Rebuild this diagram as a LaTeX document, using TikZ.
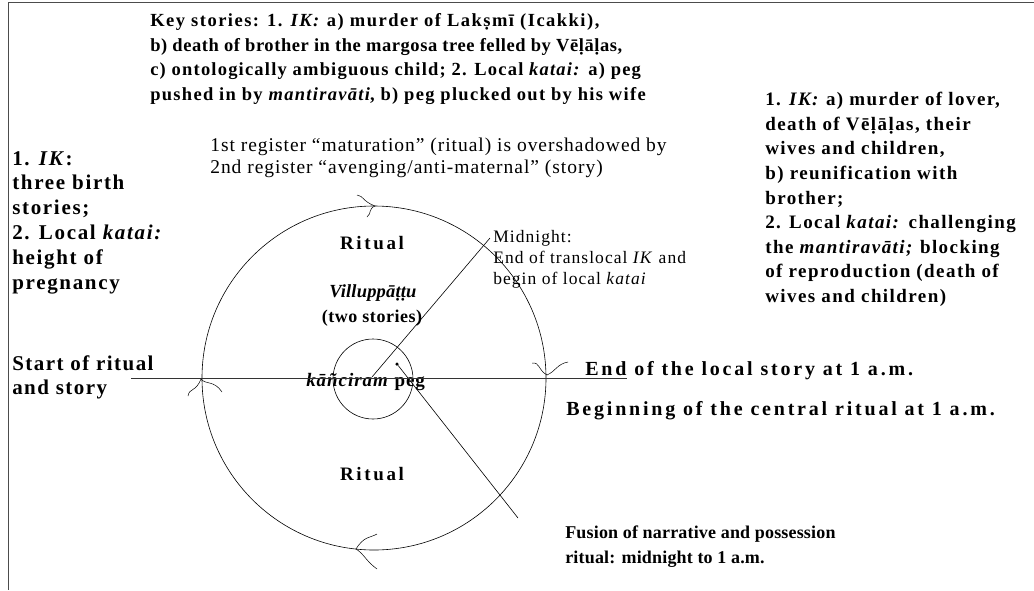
\documentclass[tikz,border=0pt]{standalone}
\usepackage{fontspec}
\setmainfont{Liberation Serif}
\newcommand{\ls}[1]{\addfontfeatures{LetterSpace=#1}}
\begin{document}
\begin{tikzpicture}[x=1pt,y=-1pt,line width=0.6pt,
  blk/.style={inner sep=0pt,anchor=north west,align=left},
  lbl/.style={inner sep=0pt},
  frame/.style={draw=black!70,line width=0.8pt},
  squig/.style={line width=0.5pt}]
\useasboundingbox (0,0) rectangle (1034,590);
\draw[frame] (8,2) -- (1034,2);
\draw[frame] (8,2) -- (8,590);
% texts
\node[blk,font={\bfseries\fontsize{18.5}{24.8}\selectfont}] (key) at (150,13) {{\ls{8}Key stories: 1. \textit{IK:} a) murder of Lakṣmī (Icakki),}\\
{\ls{3}b) death of brother in the margosa tree felled by Vēḷāḷas,}\\
{\ls{6.5}c) ontologically ambiguous child; 2. Local \textit{katai:} a) peg}\\
{\ls{7}pushed in by \textit{mantiravāti}, b) peg plucked out by his wife}};
\node[blk,font={\bfseries\fontsize{19}{24.6}\selectfont\ls{7.5}}] (right) at (765,92) {1. \textit{IK:} a) murder of lover,\\
death of Vēḷāḷas, their\\
wives and children,\\
b) reunification with\\
brother;\\
2. Local \textit{katai:} challenging\\
the \textit{mantiravāti;} blocking\\
of reproduction (death of\\
wives and children)};
\node[blk,font={\bfseries\fontsize{21}{24.8}\selectfont\ls{8}}] (left) at (12,151) {1. \textit{IK}:\\
three birth\\
stories;\\
2. Local \textit{katai:}\\
height of\\
pregnancy};
\node[blk,font={\bfseries\fontsize{21}{24.8}\selectfont\ls{7}}] (start) at (12,355) {Start of ritual\\
and story};
\node[blk,font={\fontsize{19.5}{22}\selectfont\ls{5}}] (reg) at (210,138) {1st register “maturation” (ritual) is overshadowed by\\
2nd register “avenging/anti-maternal” (story)};
\node[blk,font={\fontsize{17.5}{21}\selectfont\ls{6}}] (mid) at (493,230) {Midnight:\\
End of translocal \textit{IK} and\\
begin of local \textit{katai}};
\node[lbl,font={\bfseries\fontsize{19}{24}\selectfont\ls{14}}] (rit1) at (372,243) {Ritual};
\node[lbl,font={\bfseries\fontsize{18.5}{24}\selectfont\ls{1}}] (vill) at (373,293) {\textit{Villuppāṭṭu}};
\node[lbl,font={\bfseries\fontsize{18}{24}\selectfont\ls{3}}] (two) at (372,318) {(two stories)};
\node[lbl,anchor=base west,font={\bfseries\fontsize{19}{24}\selectfont\ls{5}}] (peg) at (306,386) {\textit{kāñciram} peg};
\node[lbl,anchor=base west,font={\bfseries\fontsize{20}{24}\selectfont\ls{14}}] (endlocal) at (585,375) {End of the local story at 1 a.m.};
\node[lbl,anchor=base west,font={\bfseries\fontsize{20}{24}\selectfont\ls{14}}] (begin) at (566,415) {Beginning of the central ritual at 1 a.m.};
\node[lbl,font={\bfseries\fontsize{19}{24}\selectfont\ls{14}}] (rit2) at (372,474) {Ritual};
\node[blk,font={\bfseries\fontsize{18}{24.8}\selectfont\ls{1}}] (fusion) at (565,526) {Fusion of narrative and possession\\
ritual: midnight to 1 a.m.};
% circles
\node[circle,draw,minimum size=344pt,inner sep=0pt] (big) at (374,378) {};
\node[circle,draw,minimum size=80pt,inner sep=0pt] (inner) at (373,379) {};
\node[circle,fill,inner sep=0pt,minimum size=3.5pt] (dot) at (397,364) {};
\coordinate (c) at (372,377);
\coordinate (midend) at (490,238);
\coordinate (fusend) at (518,518);
\coordinate (hl) at (131,378);
\coordinate (hr) at (627,378);
\draw (c) -- (midend);
\draw (dot) -- (fusend);
\draw[black!80] (hl) -- (hr);
% hand-drawn arrowheads
\draw[squig] (357,195) .. controls (364,196) and (362,201) .. (375,206) .. controls (368,209) and (372,213) .. (367,217);
\draw[squig] (188,396) .. controls (189,388) and (196,392) .. (201,379) .. controls (206,385) and (214,380) .. (222,392);
\draw[squig] (532,363) .. controls (540,362) and (538,370) .. (547,375) .. controls (556,371) and (557,364) .. (568,362);
\draw[squig] (377,534) .. controls (370,538) and (364,536) .. (356,549) .. controls (364,554) and (366,561) .. (377,569);
\end{tikzpicture}
\end{document}
